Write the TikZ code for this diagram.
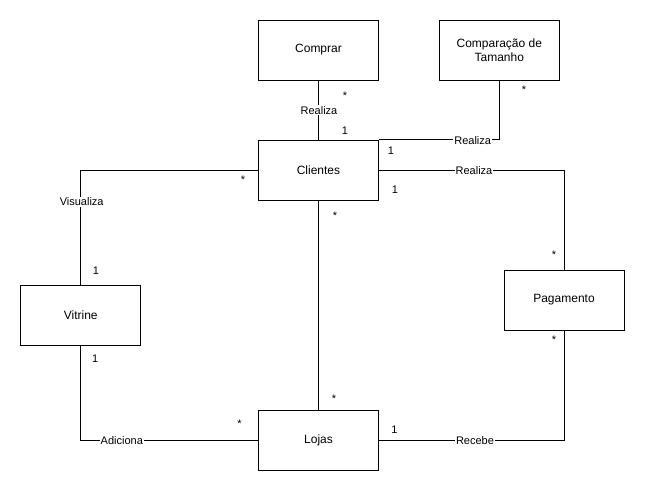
\documentclass[tikz,border=0pt]{standalone}
\usepackage{fontspec}
\setmainfont{Liberation Sans}
\begin{document}
\begin{tikzpicture}[x=1pt,y=-1pt,
  entity/.style={draw=black, line width=1pt, fill=white, minimum width=120pt,
    minimum height=60pt, inner sep=0pt, align=center,
    font=\fontsize{12}{14}\selectfont},
  link/.style={draw=black, line width=1pt},
  rel/.style={fill=white, inner sep=1pt, anchor=base, font=\fontsize{11}{13}\selectfont},
  mult/.style={inner sep=0pt, anchor=base, font=\fontsize{11}{13}\selectfont}]
\useasboundingbox (0,0) rectangle (645,491);

% classes
\node[entity] (comprar)  at (318.5,50)  {Comprar};
\node[entity] (tamanho)  at (499.3,50)  {Comparação de\\Tamanho};
\node[entity] (clientes) at (318.5,170) {Clientes};
\node[entity] (vitrine)  at (80.7,315)  {Vitrine};
\node[entity] (pagamento) at (564,300)  {Pagamento};
\node[entity] (lojas)    at (318.5,440) {Lojas};

% associations
\draw[link] (comprar.south) -- (clientes.north);
\draw[link] (tamanho.south) |- (clientes.north east);
\draw[link] (clientes.east) -| (pagamento.north);
\draw[link] (clientes.west) -| (vitrine.north);
\draw[link] (clientes.south) -- (lojas.north);
\draw[link] (vitrine.south) |- (lojas.west);
\draw[link] (lojas.east) -| (pagamento.south);

% association names
\node[rel] (r1) at (319,114.3) {Realiza};
\node[rel] (r2) at (472.7,144.5) {Realiza};
\node[rel] (r3) at (474,174) {Realiza};
\node[rel] (r4) at (81.7,205.5) {Visualiza};
\node[rel] (r5) at (121.8,444) {Adiciona};
\node[rel] (r6) at (475,444) {Recebe};

% multiplicities
\node[mult] (m1)  at (345,99)    {*};
\node[mult] (m2)  at (345,134)   {1};
\node[mult] (m3)  at (524,93)    {*};
\node[mult] (m4)  at (391,154)   {1};
\node[mult] (m5)  at (395,193)   {1};
\node[mult] (m6)  at (554,258)   {*};
\node[mult] (m7)  at (554,343)   {*};
\node[mult] (m8)  at (243,183)   {*};
\node[mult] (m9)  at (96,274)    {1};
\node[mult] (m10) at (335,219)   {*};
\node[mult] (m11) at (334,402)   {*};
\node[mult] (m12) at (95.3,362.5) {1};
\node[mult] (m13) at (239.4,427) {*};
\node[mult] (m14) at (394.5,433) {1};
\end{tikzpicture}
\end{document}
